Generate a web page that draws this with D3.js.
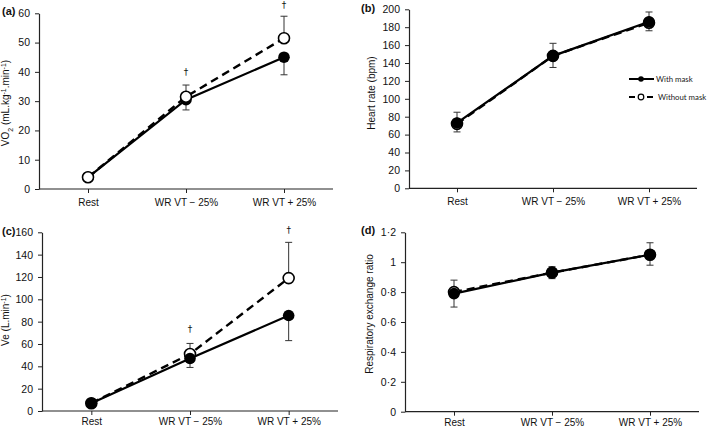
<!DOCTYPE html>
<html><head><meta charset="utf-8">
<script src="https://cdn.jsdelivr.net/npm/d3@7"></script>
<style>body{margin:0;background:#fff}svg{display:block}</style>
</head><body>
<svg id="c" width="709" height="428"></svg>
<script>
const categories = ["Rest", "WR VT \u2212 25%", "WR VT + 25%"];

// (a) VO2
const vo2WithMask = [4, 30.5, 45];
const vo2WithMaskSD = [0.5, 3.5, 6];
const vo2WithoutMask = [4, 31.5, 51.5];
const vo2WithoutMaskSD = [0.5, 4, 7.5];
const vo2Dagger = [null, 39, 61.8];
const vo2Ticks = [0, 10, 20, 30, 40, 50, 60];

// (b) Heart rate
const hrWithMask = [73, 148, 186];
const hrWithMaskSD = [10, 13, 10];
const hrWithoutMask = [72, 148, 185];
const hrWithoutMaskSD = [13, 14, 12];
const hrTicks = [0, 20, 40, 60, 80, 100, 120, 140, 160, 180, 200];

// (c) Ve
const veWithMask = [7, 47, 85.5];
const veWithMaskSD = [2, 8, 22.5];
const veWithoutMask = [7, 51, 119];
const veWithoutMaskSD = [2, 9.5, 32];
const veDagger = [null, 70.5, 159];
const veTicks = [0, 20, 40, 60, 80, 100, 120, 140, 160];

// (d) RER
const rerWithMask = [0.79, 0.93, 1.05];
const rerWithMaskSD = [0.09, 0.04, 0.07];
const rerWithoutMask = [0.80, 0.93, 1.05];
const rerWithoutMaskSD = [0.08, 0.04, 0.08];
const rerTicks = [0, 0.2, 0.4, 0.6, 0.8, 1, 1.2];

const seriesNames = ["With mask", "Without mask"];

const svg = d3.select("#c");
const FONT = "Liberation Sans, Arial, sans-serif";

function panel(o) {
  const g = svg.append("g");
  const x = d3.scalePoint().domain(categories).range([o.x0, o.x1]).padding(0.5);
  const y = d3.scaleLinear().domain([0, o.max]).range([o.yb, o.yt]);

  const xa = g.append("g").attr("transform", `translate(0,${o.yb})`)
    .call(d3.axisBottom(x).tickSize(4).tickSizeOuter(0).tickPadding(o.xpad));
  const ya = g.append("g").attr("transform", `translate(${o.x0},0)`)
    .call(d3.axisLeft(y).tickValues(o.ticks).tickSize(4).tickSizeOuter(0).tickPadding(5).tickFormat(o.fmt || (d => d)));
  [xa, ya].forEach(a => {
    a.select(".domain").attr("stroke", "#222").attr("stroke-width", 1.2);
    a.selectAll(".tick line").attr("stroke", "#222");
    a.selectAll("text").attr("font-family", FONT).attr("font-size", 10.5).attr("fill", "#111");
  });
  xa.selectAll("text").attr("font-size", 10);
  xa.select(".domain").attr("d", `M${o.x0},0H${o.x1}`);

  g.append("text").attr("x", o.lx).attr("y", o.ly).text(o.label)
    .attr("font-family", FONT).attr("font-weight", "bold").attr("font-size", 11).attr("fill", "#111");

  const t = g.append("text").attr("transform", `translate(${o.tx},${o.tyc}) rotate(-90)`)
    .attr("text-anchor", "middle").attr("font-family", FONT).attr("font-size", 10).attr("fill", "#111");
  o.title.forEach(p => {
    const s = t.append("tspan").text(p[0]);
    if (p[1] === "sub") s.attr("baseline-shift", "sub").attr("font-size", 7);
    if (p[1] === "sup") s.attr("baseline-shift", "super").attr("font-size", 7);
  });

  const line = d3.line().x((d, i) => x(categories[i])).y(d => y(d));
  const eb = (vals, sds, dir) => {
    vals.forEach((v, i) => {
      const cx = x(categories[i]);
      const end = y(v + dir * sds[i]);
      g.append("line").attr("x1", cx).attr("x2", cx).attr("y1", y(v)).attr("y2", end)
        .attr("stroke", "#333").attr("stroke-width", 1);
      g.append("line").attr("x1", cx - 3.5).attr("x2", cx + 3.5).attr("y1", end).attr("y2", end)
        .attr("stroke", "#333").attr("stroke-width", 1);
    });
  };
  eb(o.without, o.withoutSD, 1);
  eb(o.with, o.withSD, -1);

  const drawWithout = () => {
    g.append("path").datum(o.without).attr("d", line).attr("fill", "none")
      .attr("stroke", "#000").attr("stroke-width", 2.4).attr("stroke-dasharray", "8,5");
  };
  const drawWith = () => {
    g.append("path").datum(o.with).attr("d", line).attr("fill", "none")
      .attr("stroke", "#000").attr("stroke-width", 2.2);
  };
  const mWithout = () => o.without.forEach((v, i) => g.append("circle")
    .attr("cx", x(categories[i])).attr("cy", y(v)).attr("r", 5.5)
    .attr("fill", "#fff").attr("stroke", "#000").attr("stroke-width", 1.6));
  const mWith = () => o.with.forEach((v, i) => g.append("circle")
    .attr("cx", x(categories[i])).attr("cy", y(v)).attr("r", 5.8).attr("fill", "#000"));

  if (o.openOnTop) { drawWith(); drawWithout(); mWith(); mWithout(); }
  else { drawWithout(); drawWith(); mWithout(); mWith(); }

  if (o.dagger) o.dagger.forEach((v, i) => {
    if (v == null) return;
    g.append("text").attr("x", x(categories[i])).attr("y", y(v)).attr("text-anchor", "middle")
      .attr("font-family", "DejaVu Sans").attr("font-size", 9).attr("fill", "#111").text("\u2020");
  });
  return {g, x, y};
}

panel({label: "(a)", lx: 2, ly: 15, x0: 39, x1: 333, yt: 13.3, yb: 189, max: 60, ticks: vo2Ticks,
  with: vo2WithMask, withSD: vo2WithMaskSD, without: vo2WithoutMask, withoutSD: vo2WithoutMaskSD,
  dagger: vo2Dagger, openOnTop: true, tx: 9, tyc: 103, xpad: 6,
  title: [["VO"], ["2", "sub"], [" (mL.kg"], ["-1", "sup"], [".min"], ["-1", "sup"], [")"]]});

panel({label: "(b)", lx: 361, ly: 12, x0: 409, x1: 697, yt: 9.3, yb: 188.3, max: 200, ticks: hrTicks,
  with: hrWithMask, withSD: hrWithMaskSD, without: hrWithoutMask, withoutSD: hrWithoutMaskSD,
  tx: 375, tyc: 93, xpad: 6, title: [["Heart rate (bpm)"]]});

panel({label: "(c)", lx: 2, ly: 235, x0: 42, x1: 338, yt: 232.3, yb: 411, max: 160, ticks: veTicks,
  with: veWithMask, withSD: veWithMaskSD, without: veWithoutMask, withoutSD: veWithoutMaskSD,
  dagger: veDagger, tx: 9, tyc: 320, xpad: 3,
  title: [["Ve (L.min"], ["-1", "sup"], [")"]]});

panel({label: "(d)", lx: 361, ly: 234, x0: 405, x1: 699, yt: 232.3, yb: 411.7, max: 1.2, ticks: rerTicks,
  with: rerWithMask, withSD: rerWithMaskSD, without: rerWithoutMask, withoutSD: rerWithoutMaskSD,
  tx: 373, tyc: 314, xpad: 3, fmt: d => (d === 0 || d === 1) ? String(d) : d.toFixed(1).replace(".", "\u00B7"),
  title: [["Respiratory exchange ratio"]]});

// legend
const lg = svg.append("g");
const LF = "Lato, Open Sans, sans-serif";
seriesNames.forEach((name, i) => {
  const yy = 79 + i * 18;
  const ln = lg.append("line").attr("x1", 629).attr("x2", 654).attr("y1", yy).attr("y2", yy)
    .attr("stroke", "#000").attr("stroke-width", 2);
  if (i === 1) ln.attr("stroke-dasharray", "6,12");
  lg.append("circle").attr("cx", 641).attr("cy", yy).attr("r", 2.8)
    .attr("fill", i === 0 ? "#000" : "#fff").attr("stroke", "#000").attr("stroke-width", i === 0 ? 0 : 1.2);
  lg.append("text").attr("x", i === 0 ? 656 : 658).attr("y", yy + 3).text(name)
    .attr("font-family", LF).attr("font-size", 7.8).attr("fill", "#222");
});
</script>
</body></html>
